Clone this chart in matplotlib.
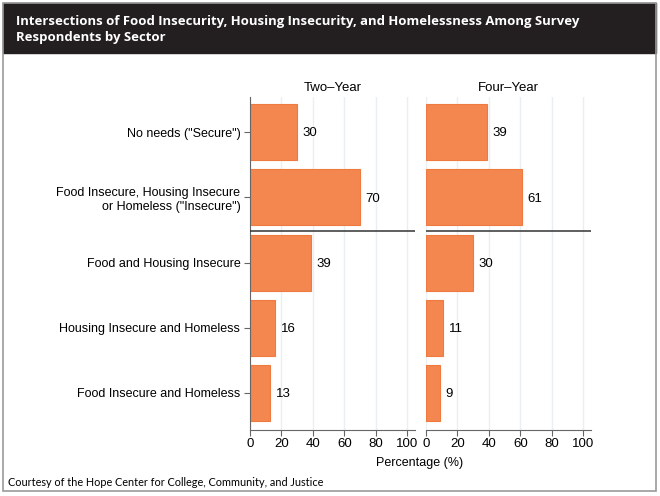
import matplotlib
matplotlib.use("Agg")
import matplotlib.pyplot as plt
from matplotlib.patches import Rectangle

categories = [
    'No needs ("Secure")',
    'Food Insecure, Housing Insecure\nor Homeless ("Insecure")',
    "Food and Housing Insecure",
    "Housing Insecure and Homeless",
    "Food Insecure and Homeless",
]
two_year = [30, 70, 39, 16, 13]
four_year = [39, 61, 30, 11, 9]
panels = ["Two\u2013Year", "Four\u2013Year"]
xticks = [0, 20, 40, 60, 80, 100]

plt.rcParams["font.family"] = ["Liberation Sans", "DejaVu Sans"]

fig = plt.figure(figsize=(6.6, 4.96), dpi=100)
W, H = 660, 496

# outer frame and header band
fig.patches.append(Rectangle((3 / W, 1 - 491 / H), 653 / W, 488 / H,
                             transform=fig.transFigure, facecolor="none",
                             edgecolor="#9a9a9a", lw=1.2, zorder=5))
fig.patches.append(Rectangle((3 / W, 1 - 53 / H), 653 / W, 50 / H,
                             transform=fig.transFigure, facecolor="#231f20",
                             edgecolor="#231f20", zorder=1))
fig.text(16 / W, 1 - 21 / H,
         "Intersections of Food Insecurity, Housing Insecurity, and Homelessness Among Survey",
         color="white", fontsize=9.45, fontweight="bold", family="Open Sans",
         va="center", ha="left")
fig.text(16 / W, 1 - 38 / H, "Respondents by Sector",
         color="white", fontsize=9.45, fontweight="bold", family="Open Sans",
         va="center", ha="left")

bar_color = "#f4874f"
edge_color = "#ee7a3f"
ypos = list(range(len(categories)))

lefts = [250, 426]
for i, (vals, name) in enumerate(zip([two_year, four_year], panels)):
    ax = fig.add_axes([lefts[i] / W, 1 - 430 / H, 165 / W, 333 / H])
    ax.set_zorder(3)
    ax.patch.set_alpha(0)
    ax.barh(ypos, vals, height=0.86, color=bar_color, edgecolor=edge_color,
            lw=0.8, zorder=2)
    for y, v in zip(ypos, vals):
        ax.text(v + 3.5, y + 0.02, f"{v}", va="center", ha="left", fontsize=9.5)
    ax.axhline(1.52, color="#333333", lw=1.1, zorder=3)
    ax.set_xlim(0, 105)
    ax.set_ylim(4.57, -0.54)
    ax.set_xticks(xticks)
    ax.tick_params(axis="x", labelsize=9.5, color="#666666", length=4, pad=2)
    ax.grid(axis="x", color="#e8f0f3", lw=1, zorder=0)
    ax.set_axisbelow(True)
    for s in ["top", "right"]:
        ax.spines[s].set_visible(False)
    ax.spines["bottom"].set_color("#666666")
    ax.spines["left"].set_color("#666666")
    ax.set_title(name, fontsize=9.5, pad=4)
    if i == 0:
        ax.set_yticks(ypos)
        ax.set_yticklabels(categories, fontsize=9, multialignment="right")
        ax.tick_params(axis="y", color="#666666", length=4, pad=3)
    else:
        ax.set_yticks([])
        ax.spines["left"].set_visible(False)

fig.text(420 / W, 1 - 463 / H, "Percentage (%)", fontsize=9,
         ha="center", va="center")
fig.text(8 / W, 1 - 482 / H,
         "Courtesy of the Hope Center for College, Community, and Justice",
         fontsize=7.8, family="Lato", ha="left", va="center")

fig.savefig("out.png", dpi=100)
